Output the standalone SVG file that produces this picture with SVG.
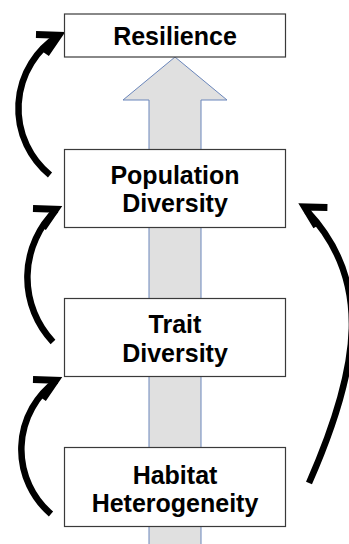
<svg xmlns="http://www.w3.org/2000/svg" xmlns:xlink="http://www.w3.org/1999/xlink" width="349" height="544" viewBox="0 0 349 544">
<style>
.box{fill:#ffffff;stroke:#3a3a3a;stroke-width:1.2}
.lbl{font-family:"Liberation Sans",Arial,sans-serif;font-weight:bold;font-size:25px;fill:#000;text-anchor:middle}
.shaft{fill:none;stroke:#000;stroke-width:6.5;stroke-linecap:butt}
.head{fill:none;stroke:#000;stroke-width:7;stroke-linejoin:miter;stroke-miterlimit:10;stroke-linecap:butt}
.big{fill:#e0e0e0;stroke:#6a86bb;stroke-width:1}
</style>
<defs>
<path id="ah" class="head" d="M-20,-11 L0,0 L-20,11"/>
</defs>
<rect width="349" height="544" fill="#ffffff"/>
<g id="flow-arrow">
<polygon class="big" points="175,57 227,100 201,100 201,550 149,550 149,100 123,100"/>
</g>
<g id="connectors">
<path class="shaft" d="M50,175 A86,86 0 0,1 58,36"/>
<use xlink:href="#ah" href="#ah" transform="translate(58.8,35.2) rotate(-27)"/>
<path class="shaft" d="M53,342 A94,94 0 0,1 56,210"/>
<use xlink:href="#ah" href="#ah" transform="translate(55.8,209.2) rotate(-27)"/>
<path class="shaft" d="M51,514 A85,85 0 0,1 56,381"/>
<use xlink:href="#ah" href="#ah" transform="translate(55.8,380.2) rotate(-27)"/>
<path class="shaft" d="M309,483 C361,365 372,280 307,211"/>
<use xlink:href="#ah" href="#ah" transform="translate(304.6,207) rotate(-150)"/>
</g>
<g id="resilience">
<rect class="box" x="64.5" y="14" width="221" height="43"/>
<text class="lbl" x="175" y="45">Resilience</text>
</g>
<g id="population-diversity">
<rect class="box" x="64.5" y="149.5" width="221" height="78"/>
<text class="lbl" x="175" y="184">Population</text>
<text class="lbl" x="175" y="211.7">Diversity</text>
</g>
<g id="trait-diversity">
<rect class="box" x="64.5" y="298.5" width="221" height="78"/>
<text class="lbl" x="175" y="333.3">Trait</text>
<text class="lbl" x="175" y="361.5">Diversity</text>
</g>
<g id="habitat-heterogeneity">
<rect class="box" x="64.5" y="447.5" width="221" height="79"/>
<text class="lbl" x="175" y="484">Habitat</text>
<text class="lbl" x="175" y="511.7">Heterogeneity</text>
</g>
</svg>
